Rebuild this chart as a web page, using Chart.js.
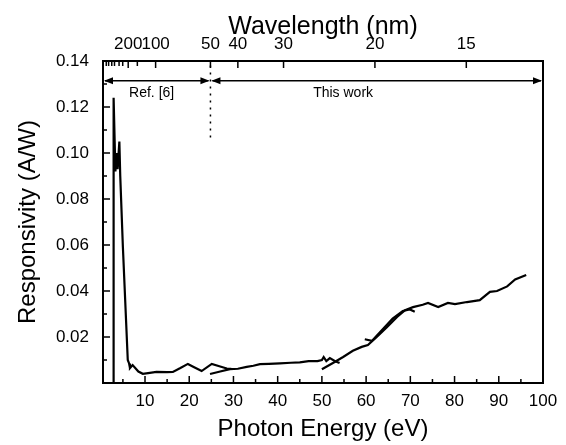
<!DOCTYPE html>
<html>
<head>
<meta charset="utf-8">
<script src="https://cdn.jsdelivr.net/npm/chart.js@4.4.0/dist/chart.umd.min.js"></script>
<style>
  html, body { margin: 0; padding: 0; background: #fff; }
  #wrap { width: 566px; height: 445px; }
</style>
</head>
<body>
<div id="wrap"><canvas id="chart"></canvas></div>
<script>
// Ref. [6] segment
const refEnergy = [2.8, 2.9, 3.3, 3.6, 3.8, 4.2, 4.4, 5.0, 6.1, 6.4, 6.6, 7.2, 8.5, 9.5, 10.7, 12.6, 15, 16.3, 18, 19.7, 21, 22.8, 25.1, 27, 28.5, 29.5];
const refResp = [0.0, 0.124, 0.092, 0.1, 0.093, 0.105, 0.09, 0.059, 0.01, 0.0085, 0.0065, 0.0078, 0.005, 0.004, 0.0043, 0.0048, 0.0047, 0.0048, 0.0065, 0.0083, 0.007, 0.0052, 0.0083, 0.0072, 0.0063, 0.0062];

// This work: low energy scan
const lowEnergy = [24.7, 27, 29.2, 31, 33, 34.5, 36, 38, 40.5, 43, 45, 47, 49, 50, 50.4, 51, 51.8, 53, 54];
const lowResp = [0.0039, 0.005, 0.006, 0.0062, 0.007, 0.0075, 0.0082, 0.0083, 0.0085, 0.0088, 0.009, 0.0095, 0.0095, 0.01, 0.0113, 0.0095, 0.0108, 0.0095, 0.0087];

// This work: high energy scan
const highEnergy = [50, 52.5, 54.8, 57, 59, 60.4, 62.4, 64.7, 67, 68.8, 70.6, 72.8, 74, 76.3, 78.5, 80.1, 82.8, 85.7, 88, 89.6, 91.9, 93.7, 96.2];
const highResp = [0.006, 0.0087, 0.0113, 0.014, 0.0157, 0.0165, 0.02, 0.0243, 0.0287, 0.0317, 0.033, 0.034, 0.0348, 0.033, 0.0348, 0.0343, 0.0352, 0.036, 0.0396, 0.040, 0.042, 0.045, 0.047];

// This work: overlap scan
const midEnergy = [59.7, 61.3, 63.6, 66, 68.3, 69.9, 71];
const midResp = [0.019, 0.0183, 0.023, 0.028, 0.0313, 0.032, 0.031];

const energyTicks = [10, 20, 30, 40, 50, 60, 70, 80, 90, 100];
const energyMinor = [5, 15, 25, 35, 45, 55, 65, 75, 85, 95];
const respTicks = [0.02, 0.04, 0.06, 0.08, 0.10, 0.12, 0.14];
const respMinor = [0.01, 0.03, 0.05, 0.07, 0.09, 0.11, 0.13];
const wavelengthTicks = [200, 100, 50, 40, 30, 20, 15];
const wavelengthMinor = [1000, 700, 500, 400, 300, 250, 150];

const HC = 1239.84;
const FONT = "'Liberation Sans', Arial, sans-serif";

function toPoints(xs, ys) {
  return xs.map((x, i) => ({ x, y: ys[i] }));
}

function lineSet(xs, ys) {
  return {
    data: toPoints(xs, ys),
    showLine: true,
    borderColor: "#000",
    borderWidth: 2.2,
    pointRadius: 0,
    tension: 0
  };
}

function arrowHead(ctx, x, y, dir) {
  ctx.beginPath();
  ctx.moveTo(x, y);
  ctx.lineTo(x - dir * 9, y - 3.5);
  ctx.lineTo(x - dir * 9, y + 3.5);
  ctx.closePath();
  ctx.fill();
}

const decorPlugin = {
  id: "decor",
  afterDatasetsDraw(chart) {
    const { ctx, chartArea: area, scales } = chart;
    const x = scales.x;
    const y = scales.y;

    ctx.save();
    ctx.strokeStyle = "#000";
    ctx.fillStyle = "#000";

    // inward ticks
    ctx.lineWidth = 1.5;
    ctx.beginPath();
    energyTicks.forEach((v) => {
      const px = x.getPixelForValue(v);
      ctx.moveTo(px, area.bottom);
      ctx.lineTo(px, area.bottom - 7);
    });
    energyMinor.forEach((v) => {
      const px = x.getPixelForValue(v);
      ctx.moveTo(px, area.bottom);
      ctx.lineTo(px, area.bottom - 4);
    });
    respTicks.forEach((v) => {
      const py = y.getPixelForValue(v);
      ctx.moveTo(area.left, py);
      ctx.lineTo(area.left + 7, py);
    });
    respMinor.forEach((v) => {
      const py = y.getPixelForValue(v);
      ctx.moveTo(area.left, py);
      ctx.lineTo(area.left + 4, py);
    });
    wavelengthTicks.forEach((w) => {
      const px = x.getPixelForValue(HC / w);
      ctx.moveTo(px, area.top);
      ctx.lineTo(px, area.top + 7);
    });
    wavelengthMinor.forEach((w) => {
      const px = x.getPixelForValue(HC / w);
      ctx.moveTo(px, area.top);
      ctx.lineTo(px, area.top + 5);
    });
    ctx.stroke();

    // frame
    ctx.lineWidth = 2;
    ctx.strokeRect(area.left, area.top, area.right - area.left, area.bottom - area.top);

    // range arrows
    const split = x.getPixelForValue(HC / 50);
    const arrowY = y.getPixelForValue(0.1314);
    ctx.lineWidth = 1.5;
    ctx.beginPath();
    ctx.moveTo(area.left + 2, arrowY);
    ctx.lineTo(split - 2, arrowY);
    ctx.moveTo(split + 2, arrowY);
    ctx.lineTo(area.right - 2, arrowY);
    ctx.stroke();
    arrowHead(ctx, area.left + 1, arrowY, -1);
    arrowHead(ctx, split - 1, arrowY, 1);
    arrowHead(ctx, split + 1, arrowY, -1);
    arrowHead(ctx, area.right - 1, arrowY, 1);

    // dotted divider
    ctx.setLineDash([2, 5]);
    ctx.beginPath();
    ctx.moveTo(split, y.getPixelForValue(0.138));
    ctx.lineTo(split, y.getPixelForValue(0.1065));
    ctx.stroke();
    ctx.setLineDash([]);

    ctx.font = "14px " + FONT;
    ctx.textAlign = "center";
    ctx.textBaseline = "middle";
    ctx.fillText("Ref. [6]", x.getPixelForValue(11.5), y.getPixelForValue(0.1262));
    ctx.fillText("This work", x.getPixelForValue(54.8), y.getPixelForValue(0.1262));

    ctx.restore();
  }
};

new Chart(document.getElementById("chart"), {
  type: "scatter",
  data: {
    datasets: [
      lineSet(refEnergy, refResp),
      lineSet(lowEnergy, lowResp),
      lineSet(highEnergy, highResp),
      lineSet(midEnergy, midResp)
    ]
  },
  options: {
    responsive: true,
    maintainAspectRatio: false,
    animation: false,
    layout: { padding: { left: 0, right: 23, top: 0, bottom: 0 } },
    plugins: {
      legend: { display: false },
      tooltip: { enabled: false }
    },
    scales: {
      x: {
        type: "linear",
        position: "bottom",
        min: 0.5,
        max: 100,
        grid: { display: false, drawTicks: false },
        border: { display: false },
        afterBuildTicks: (scale) => {
          scale.ticks = energyTicks.map((v) => ({ value: v }));
        },
        afterFit: (scale) => {
          scale.height = 62;
        },
        ticks: {
          autoSkip: false,
          maxRotation: 0,
          color: "#000",
          padding: 8,
          font: { family: FONT, size: 17 }
        },
        title: {
          display: true,
          text: "Photon Energy (eV)",
          color: "#000",
          font: { family: FONT, size: 24 },
          padding: { top: 0, bottom: 1 }
        }
      },
      x2: {
        type: "linear",
        position: "top",
        min: 0.5,
        max: 100,
        grid: { display: false, drawTicks: false },
        border: { display: false },
        afterBuildTicks: (scale) => {
          scale.ticks = wavelengthTicks.map((w) => ({ value: HC / w }));
        },
        afterFit: (scale) => {
          scale.height = 61;
        },
        ticks: {
          autoSkip: false,
          maxRotation: 0,
          color: "#000",
          padding: 6,
          font: { family: FONT, size: 17 },
          callback: (value) => String(Math.round(HC / value))
        },
        title: {
          display: true,
          text: "Wavelength (nm)",
          color: "#000",
          font: { family: FONT, size: 25 },
          padding: { top: 12, bottom: 0 }
        }
      },
      y: {
        type: "linear",
        min: 0,
        max: 0.14,
        grid: { display: false, drawTicks: false },
        border: { display: false },
        afterBuildTicks: (scale) => {
          scale.ticks = respTicks.map((v) => ({ value: v }));
        },
        afterFit: (scale) => {
          scale.width = 103;
        },
        ticks: {
          color: "#000",
          padding: 14,
          font: { family: FONT, size: 17 },
          callback: (value) => value.toFixed(2)
        },
        title: {
          display: true,
          text: "Responsivity (A/W)",
          color: "#000",
          font: { family: FONT, size: 24 },
          padding: { top: 14, bottom: 0 }
        }
      }
    }
  },
  plugins: [decorPlugin]
});
</script>
</body>
</html>
